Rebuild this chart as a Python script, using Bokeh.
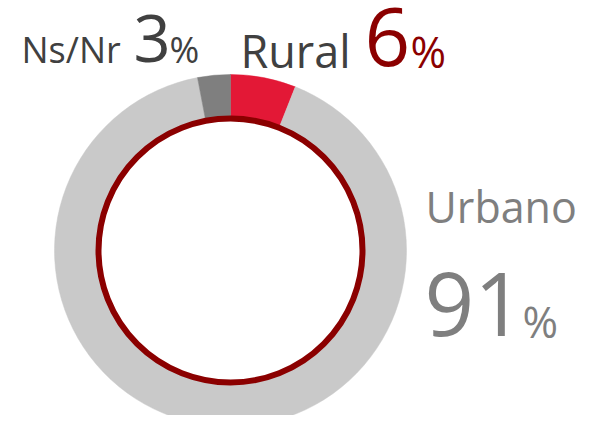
from bokeh.plotting import figure
from bokeh.models import ColumnDataSource, Range1d
from bokeh.core.properties import value
from bokeh.embed import file_html
from bokeh.resources import INLINE
import math

# ---- data ----
labels = ["Rural", "Urbano", "Ns/Nr"]
shares = [6, 91, 3]
colors = ["#E31836", "#C9C9C9", "#7F7F7F"]

W, H = 576, 415
p = figure(width=W, height=H, output_backend="svg", toolbar_location=None,
           x_range=Range1d(0, W), y_range=Range1d(0, H), min_border=0)
p.axis.visible = False
p.grid.visible = False
p.outline_line_color = None
p.background_fill_color = "white"
p.border_fill_color = "white"

def sx(x):
    return x

def sy(y):
    return H - y

cx, cy = sx(230), sy(250)

# donut slices, clockwise from 12 o'clock
total = sum(shares)
starts, ends = [], []
a = math.pi / 2
for s in shares:
    starts.append(a)
    a -= 2 * math.pi * s / total
    ends.append(a)

src = ColumnDataSource(dict(label=labels, share=shares, color=colors,
                            start=starts, end=ends))
p.annular_wedge(x=cx, y=cy, inner_radius=131, outer_radius=176,
                inner_radius_units="screen", outer_radius_units="screen",
                start_angle="start", end_angle="end", direction="clock",
                fill_color="color", line_color="color", line_width=0.5,
                source=src)

# inner dark red ring
p.scatter(x=[cx], y=[cy], size=264, marker="circle", fill_color="white",
          line_color="#8B0000", line_width=6)

font = value("Open Sans")
dark = "#404040"
grey = "#7F7F7F"
red = "#8B0000"

def txt(x, y, t, size, color):
    # compensate renderer's baseline offset (~0.38 em)
    p.text(x=[sx(x)], y=[sy(y - 0.38 * size)], text=[t], text_font=font,
           text_font_size=f"{size}px", text_color=color,
           text_baseline="alphabetic", text_align="left")

# Ns/Nr label
txt(21, 63, labels[2], 36, dark)
txt(133, 63, str(shares[2]), 65, dark)
txt(169, 63, "%", 36, dark)

# Rural label
txt(240, 67, labels[0], 45, dark)
txt(364, 67, str(shares[0]), 80, red)
txt(410, 67, "%", 43, red)

# Urbano label
txt(425, 222, labels[1], 43, grey)
txt(424, 337, str(shares[1]), 87, grey)
txt(522, 337, "%", 43, grey)

open("out.html", "w").write(file_html(p, INLINE))
